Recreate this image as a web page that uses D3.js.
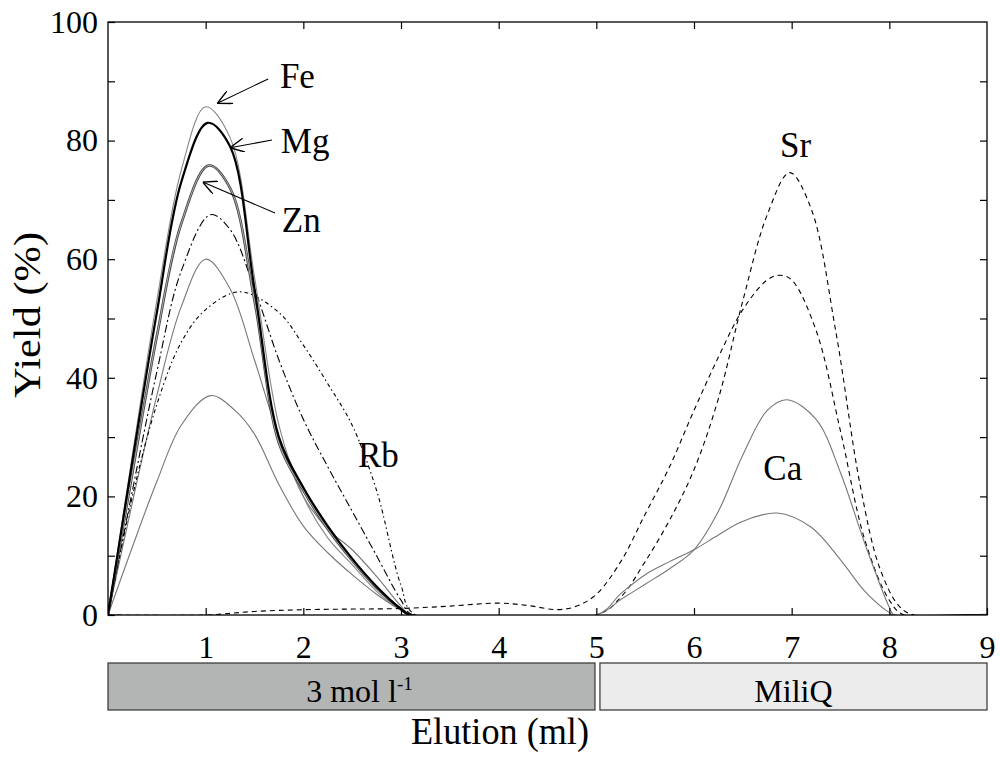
<!DOCTYPE html>
<meta charset="utf-8">
<body style="margin:0;background:#fff">
<script src="https://cdn.jsdelivr.net/npm/d3@7"></script>
<script>

    // elution (ml) / yield (%) pairs
    var fe    = [[0,0],[0.25,27],[0.5,53],[0.75,75],[1,85.7],[1.25,80.5],[1.5,57],[1.75,32],[2,20],[2.25,13],[2.5,8.5],[2.75,4],[3,0.8],[3.1,0],[9,0]];
    var mg    = [[0,0],[0.25,26],[0.5,51],[0.75,73],[1.02,83],[1.25,79],[1.5,55],[1.75,30],[2,21.5],[2.25,15],[2.5,9.5],[2.75,4.8],[3,1],[3.1,0],[9,0]];
    var zn    = [[0,0],[0.25,24],[0.5,47],[0.75,66],[1.03,75.8],[1.25,72],[1.5,53],[1.75,29],[2,21],[2.25,14.5],[2.5,9.2],[2.75,4.6],[3,1],[3.1,0],[9,0]];
    var dashA = [[0,0],[0.25,21],[0.5,41],[0.75,58],[1.05,67.5],[1.25,65],[1.5,55],[1.75,43],[2,33],[2.25,25],[2.5,17.5],[2.75,10],[3,2.5],[3.12,0],[9,0]];
    var greyA = [[0,0],[0.25,19],[0.5,37],[0.75,52],[1,60],[1.25,55],[1.5,43],[1.75,30],[2,20],[2.25,14.5],[2.5,11],[2.75,6.5],[3,1.5],[3.1,0],[9,0]];
    var rb    = [[0,0],[0.25,20],[0.5,35.5],[0.75,46],[1,51.5],[1.35,54.5],[1.75,51],[2,45.5],[2.25,39],[2.5,32],[2.75,21],[3,5],[3.15,0],[9,0]];
    var greyB = [[0,0],[0.25,11.5],[0.5,22.5],[0.75,32],[1.05,37],[1.3,34.5],[1.5,30.5],[1.75,22],[2,15],[2.25,10.5],[2.5,6.8],[2.75,3.5],[3,0.8],[3.1,0],[9,0]];
    var srA   = [[0,0],[1,0],[1.5,0.6],[2,0.9],[2.5,1],[3,1.1],[3.5,1.5],[4,2],[4.3,1.6],[4.6,0.9],[4.8,1.5],[5,3.5],[5.25,9],[5.5,17],[5.75,25],[6,34.5],[6.25,43.5],[6.5,51.5],[6.75,56.5],[6.88,57.3],[7,56.5],[7.25,48],[7.5,31],[7.75,12.6],[8,2.5],[8.15,0],[9,0]];
    var sr    = [[0,0],[5,0],[5.25,3],[5.5,9],[5.75,16],[6,24.5],[6.25,36.5],[6.5,53],[6.75,67.5],[6.98,74.6],[7.2,68.5],[7.45,48],[7.7,22],[7.9,8],[8.1,1.5],[8.25,0],[9,0]];
    var ca    = [[0,0],[5,0],[5.25,2.6],[5.5,5.2],[5.75,7.8],[6,11],[6.25,17.5],[6.5,27],[6.75,34.5],[6.95,36.3],[7.25,33],[7.5,24],[7.75,12],[8,1.3],[8.05,0],[9,0]];
    var caB   = [[0,0],[5,0],[5.25,3.6],[5.5,6.8],[5.75,9],[6,11],[6.25,13.5],[6.5,15.8],[6.85,17.2],[7.2,14.8],[7.5,9.3],[7.75,4],[8,0.4],[8.05,0],[9,0]];

    var xTicks = [1,2,3,4,5,6,7,8,9];
    var yTicks = [0,10,20,30,40,50,60,70,80,90,100];

    // element labels: [text, x, y] in data units, arrows: [fromX, fromY, toX, toY]
    var labels = [["Fe",1.76,88.9],["Mg",1.77,77.9],["Zn",1.78,64.6],["Rb",2.56,25],["Sr",6.88,77.2],["Ca",6.71,22.8]];
    var arrows = [[1.64,90.4,1.12,86.3],[1.68,80.1,1.25,78.8],[1.71,67.8,0.97,73.0]];

    var series = [
        {d: greyB, stroke: "#777", w: 1.1, dash: null},
        {d: greyA, stroke: "#777", w: 1.1, dash: null},
        {d: rb,    stroke: "#000", w: 1.1, dash: "4,3,1.5,3"},
        {d: dashA, stroke: "#000", w: 1.1, dash: "8,3,2,3"},
        {d: fe,    stroke: "#888", w: 1.1, dash: null},
        {d: zn,    stroke: "#444", w: 2.6, dash: null},
        {d: zn,    stroke: "#ddd", w: 0.7, dash: null},
        {d: mg,    stroke: "#000", w: 2.2, dash: null},
        {d: srA,   stroke: "#000", w: 1.1, dash: "5,4"},
        {d: sr,    stroke: "#000", w: 1.1, dash: "5,4"},
        {d: caB,   stroke: "#777", w: 1.1, dash: null},
        {d: ca,    stroke: "#777", w: 1.1, dash: null}
    ];

    var width = 1000, height = 757;
    var plotLeft = 108, plotRight = 987, plotTop = 22, plotBottom = 615;
    var serif = "'Liberation Serif', 'Times New Roman', Times, serif";

    var svg = d3.select("body").append("svg")
        .attr("width", width)
        .attr("height", height)
        .style("font-family", serif);

    var x = d3.scaleLinear().domain([0, 9]).range([plotLeft, plotRight]);
    var y = d3.scaleLinear().domain([0, 100]).range([plotBottom, plotTop]);

    svg.append("defs").append("clipPath")
        .attr("id", "plotClip")
        .append("rect")
        .attr("x", plotLeft).attr("y", plotTop)
        .attr("width", plotRight - plotLeft).attr("height", plotBottom - plotTop);

    var line = d3.line()
        .x(function (d) { return x(d[0]); })
        .y(function (d) { return y(d[1]); })
        .curve(d3.curveCatmullRom.alpha(0.5));

    svg.append("g")
        .attr("clip-path", "url(#plotClip)")
        .selectAll(".curve")
        .data(series)
        .enter()
        .append("path")
        .attr("class", "curve")
        .attr("d", function (s) { return line(s.d); })
        .attr("fill", "none")
        .attr("stroke", function (s) { return s.stroke; })
        .attr("stroke-width", function (s) { return s.w; })
        .attr("stroke-dasharray", function (s) { return s.dash; });

    // frame and ticks
    svg.append("rect")
        .attr("x", plotLeft).attr("y", plotTop)
        .attr("width", plotRight - plotLeft).attr("height", plotBottom - plotTop)
        .attr("fill", "none").attr("stroke", "#000").attr("stroke-width", 1.3);

    var yAxis = svg.append("g")
        .attr("transform", "translate(" + plotLeft + ",0)")
        .call(d3.axisLeft(y).tickValues(yTicks).tickSize(-7).tickPadding(10)
            .tickFormat(function (d) { return d % 20 === 0 ? d : ""; }));
    var yAxisR = svg.append("g")
        .attr("transform", "translate(" + plotRight + ",0)")
        .call(d3.axisRight(y).tickValues(yTicks.slice(1, -1)).tickSize(-7).tickFormat(""));
    var xAxis = svg.append("g")
        .attr("transform", "translate(0," + plotBottom + ")")
        .call(d3.axisBottom(x).tickValues(xTicks).tickSize(-7).tickPadding(20));
    var xAxisT = svg.append("g")
        .attr("transform", "translate(0," + plotTop + ")")
        .call(d3.axisTop(x).tickValues(xTicks.slice(0, -1)).tickSize(-7).tickFormat(""));

    [yAxis, yAxisR, xAxis, xAxisT].forEach(function (g) {
        g.select(".domain").remove();
        g.selectAll("line").attr("stroke", "#000").attr("stroke-width", 1.2);
        g.selectAll("text")
            .attr("fill", "#000")
            .style("font-family", serif)
            .style("font-size", "32px");
    });

    // arrows
    svg.select("defs").append("marker")
        .attr("id", "head")
        .attr("markerUnits", "userSpaceOnUse")
        .attr("viewBox", "0 0 12 12")
        .attr("refX", 12).attr("refY", 6)
        .attr("markerWidth", 14).attr("markerHeight", 14)
        .attr("orient", "auto")
        .append("path")
        .attr("d", "M0,0 L12,6 L0,12")
        .attr("fill", "none")
        .attr("stroke", "#000")
        .attr("stroke-width", 1.2);

    svg.selectAll(".arrow")
        .data(arrows)
        .enter()
        .append("line")
        .attr("class", "arrow")
        .attr("x1", function (d) { return x(d[0]); })
        .attr("y1", function (d) { return y(d[1]); })
        .attr("x2", function (d) { return x(d[2]); })
        .attr("y2", function (d) { return y(d[3]); })
        .attr("stroke", "#000")
        .attr("stroke-width", 1.1)
        .attr("marker-end", "url(#head)");

    svg.selectAll(".lbl")
        .data(labels)
        .enter()
        .append("text")
        .attr("class", "lbl")
        .attr("x", function (d) { return x(d[1]); })
        .attr("y", function (d) { return y(d[2]); })
        .style("font-size", "35px")
        .text(function (d) { return d[0]; });

    // eluent bars
    var bars = [
        {from: 0, to: 4.986, fill: "#b3b5b5", name: "3 mol l", sup: "-1"},
        {from: 5.037, to: 9, fill: "#ececec", name: "MiliQ", sup: ""}
    ];

    svg.selectAll(".bar")
        .data(bars)
        .enter()
        .append("rect")
        .attr("class", "bar")
        .attr("x", function (d) { return x(d.from); })
        .attr("y", 663)
        .attr("width", function (d) { return x(d.to) - x(d.from); })
        .attr("height", 47)
        .attr("fill", function (d) { return d.fill; })
        .attr("stroke", "#333")
        .attr("stroke-width", 1.2);

    var barText = svg.selectAll(".barText")
        .data(bars)
        .enter()
        .append("text")
        .attr("class", "barText")
        .attr("x", function (d) { return (x(d.from) + x(d.to)) / 2 + (d.sup ? 8 : 0); })
        .attr("y", 702)
        .attr("text-anchor", "middle")
        .style("font-size", "32px");
    barText.append("tspan").text(function (d) { return d.name; });
    barText.append("tspan")
        .attr("dy", -12)
        .style("font-size", "19px")
        .text(function (d) { return d.sup; });

    svg.append("text")
        .attr("x", 500)
        .attr("y", 744)
        .attr("text-anchor", "middle")
        .attr("textLength", 178)
        .attr("lengthAdjust", "spacingAndGlyphs")
        .style("font-size", "37px")
        .text("Elution (ml)");

    svg.append("text")
        .attr("transform", "translate(40,315) rotate(-90)")
        .attr("text-anchor", "middle")
        .attr("textLength", 166)
        .attr("lengthAdjust", "spacingAndGlyphs")
        .style("font-size", "37px")
        .text("Yield (%)");

</script>
</body>
